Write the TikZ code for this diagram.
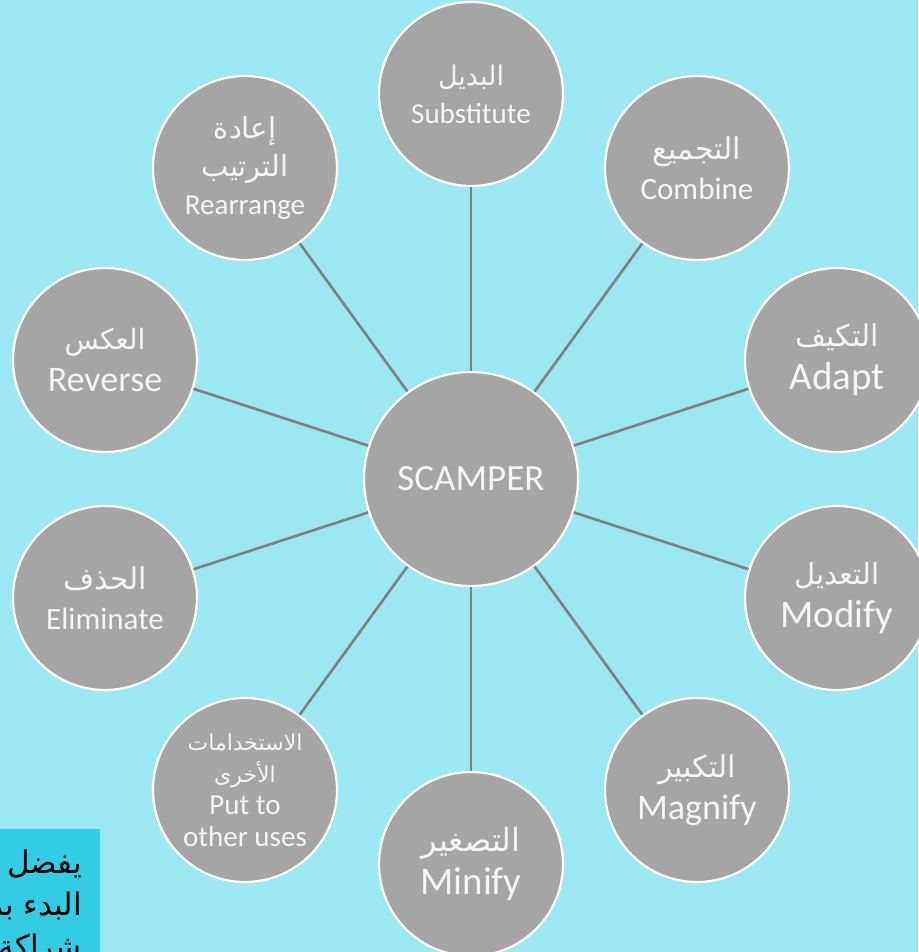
\documentclass[tikz,border=0pt]{standalone}
\usepackage{fontspec}
\setmainfont{Carlito}
\newfontfamily\arabicfont[Script=Arabic]{DejaVu Sans}
\newfontfamily\boxarabic[Script=Arabic]{DejaVu Sans}
\TeXXeTstate=1
\newcommand\artxt[2]{{\arabicfont\fontsize{#1}{#1}\selectfont\beginR #2\endR}}
\definecolor{bgcyan}{RGB}{156,232,242}
\definecolor{boxcyan}{RGB}{51,204,226}
\definecolor{circgray}{RGB}{165,165,165}
\definecolor{spokegray}{RGB}{127,127,127}
\definecolor{txtwhite}{RGB}{245,245,245}
\begin{document}
\begin{tikzpicture}[x=1pt,y=-1pt,
  bubble/.style={circle, fill=circgray, draw=white, line width=2.2pt,
    minimum size=184pt, inner sep=0pt, align=center, text=txtwhite},
  fs/.style 2 args={font=\fontsize{#1}{#2}\selectfont},
  spoke/.style={draw=spokegray, line width=2.6pt},
  boxline/.style={anchor=east, inner sep=0pt, text=black,
    font=\boxarabic\fontsize{31}{38}\selectfont}]
\fill[bgcyan] (0,0) rectangle (918,952);
\useasboundingbox (0,0) rectangle (918,952);
% center
\node[bubble, minimum size=214pt, fs={37}{44}] (c) at (471,479) {SCAMPER};
% outer circles
\node[bubble, fs={29}{38}] (sub) at (471,94) {\artxt{27}{البديل}\\Substitute};
\node[bubble, fs={31}{40}] (comb) at (697,168) {\artxt{30}{التجميع}\\Combine};
\node[bubble, fs={39}{43}] (adapt) at (837,360) {\artxt{30}{التكيف}\\Adapt};
\node[bubble, fs={39}{43}] (mod) at (837,598) {\artxt{29}{التعديل}\\Modify};
\node[bubble, fs={36}{42}] (mag) at (697,790) {\artxt{30}{التكبير}\\Magnify};
\node[bubble, fs={39}{43}] (min) at (471,864) {\artxt{32}{التصغير}\\Minify};
\node[bubble, fs={29}{32}] (put) at (245,790) {\artxt{22}{الاستخدامات}\\\artxt{22}{الأخرى}\\Put to\\other uses};
\node[bubble, fs={31}{40}] (elim) at (105,598) {\artxt{30}{الحذف}\\Eliminate};
\node[bubble, fs={36}{42}] (rev) at (105,360) {\artxt{28}{العكس}\\Reverse};
\node[bubble, fs={29}{38}] (rear) at (245,168) {\artxt{29}{إعادة}\\\artxt{29}{الترتيب}\\Rearrange};
% spokes
\foreach \n in {sub,comb,adapt,mod,mag,min,put,elim,rev,rear}
  \draw[spoke] (c) -- (\n);
% note box
\fill[boxcyan] (0,829) rectangle (100,952);
\node[boxline] (l1) at (82,864) {\beginR يفضل\endR};
\node[boxline] (l2) at (82,906) {\beginR البدء بمـ\endR};
\node[boxline] (l3) at (82,949) {\beginR شراكة\endR};
\end{tikzpicture}
\end{document}
